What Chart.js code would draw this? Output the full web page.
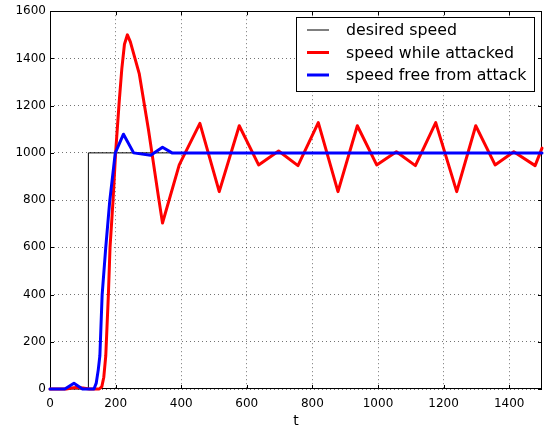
<!DOCTYPE html>
<html>
<head>
<meta charset="utf-8">
<script src="https://cdn.jsdelivr.net/npm/chart.js@4/dist/chart.umd.min.js"></script>
<style>
html,body{margin:0;padding:0;background:#fff;}
#wrap{width:545px;height:430px;}
</style>
</head>
<body>
<div id="wrap"><canvas id="c" width="545" height="430"></canvas></div>
<script>
// Data
const desiredT = [0, 117, 117, 1500];
const desiredV = [0, 0, 1000, 1000];

const attackedT = [0, 50, 65, 80, 100, 120, 150, 158, 164, 170, 178, 183, 192, 200, 211, 219, 227, 236, 245, 272, 300, 330, 343, 394, 457, 516, 577, 636, 697, 756, 818, 878, 937, 996, 1056, 1114, 1176, 1240, 1298, 1357, 1414, 1479, 1500];
const attackedV = [0, 0, 4, 6, 4, 0, 0, 10, 50, 140, 400, 600, 794, 1000, 1217, 1357, 1460, 1500, 1470, 1336, 1100, 820, 703, 949, 1125, 836, 1115, 949, 1008, 946, 1128, 836, 1115, 949, 1005, 946, 1128, 836, 1115, 949, 1005, 946, 1020];

const freeT = [0, 45, 73, 99, 134, 141, 147, 152, 159, 170, 182, 199, 224, 255, 307, 343, 372, 1500];
const freeV = [0, 0, 24, 0, 0, 25, 80, 140, 400, 600, 794, 1000, 1079, 1000, 990, 1024, 1000, 1000];

const seriesNames = ['desired speed', 'speed while attacked', 'speed free from attack'];
const xTicks = [0, 200, 400, 600, 800, 1000, 1200, 1400];
const yTicks = [0, 200, 400, 600, 800, 1000, 1200, 1400, 1600];

const toPts = (ts, vs) => ts.map((t, i) => ({x: t, y: vs[i]}));
const FONT = "'DejaVu Sans', sans-serif";

const framePlugin = {
  id: 'frame',
  beforeDatasetsDraw(chart) {
    const {ctx, chartArea: a, scales} = chart;
    ctx.save();
    ctx.strokeStyle = '#000';
    ctx.lineWidth = 1;
    ctx.strokeRect(Math.round(a.left) + 0.5, Math.round(a.top) + 0.5, Math.round(a.right - a.left) - 1, Math.round(a.bottom - a.top) - 1);
    const L = 4;
    ctx.beginPath();
    xTicks.forEach(v => {
      const px = Math.round(scales.x.getPixelForValue(v)) + 0.5;
      ctx.moveTo(px, a.bottom); ctx.lineTo(px, a.bottom - L);
      ctx.moveTo(px, a.top); ctx.lineTo(px, a.top + L);
    });
    yTicks.forEach(v => {
      const py = Math.round(scales.y.getPixelForValue(v)) + 0.5;
      ctx.moveTo(a.left, py); ctx.lineTo(a.left + L, py);
      ctx.moveTo(a.right, py); ctx.lineTo(a.right - L, py);
    });
    ctx.stroke();
    ctx.restore();
  },
  afterDraw(chart) {
    const {ctx} = chart;
    ctx.save();
    const bx = 296, by = 17, bw = 238, bh = 74;
    ctx.fillStyle = '#fff';
    ctx.fillRect(bx, by, bw, bh);
    ctx.strokeStyle = '#000';
    ctx.lineWidth = 1;
    ctx.strokeRect(bx + 0.5, by + 0.5, bw, bh);
    const rows = [30, 52.5, 75];
    const colors = ['#7f7f7f', '#ff0000', '#0000ff'];
    seriesNames.forEach((name, i) => {
      ctx.beginPath();
      ctx.strokeStyle = colors[i];
      ctx.lineWidth = i === 0 ? 2 : 3;
      ctx.moveTo(307, rows[i]); ctx.lineTo(329, rows[i]);
      ctx.stroke();
      ctx.fillStyle = '#000';
      ctx.font = '15.8px ' + FONT;
      ctx.textBaseline = 'middle';
      ctx.textAlign = 'left';
      ctx.fillText(name, 346, rows[i] + 1);
    });
    ctx.restore();
  }
};

new Chart(document.getElementById('c'), {
  type: 'line',
  data: {
    datasets: [
      {label: seriesNames[0], data: toPts(desiredT, desiredV), borderColor: '#000', borderWidth: 1, pointRadius: 0, tension: 0, fill: false, order: 3, clip: 4},
      {label: seriesNames[1], data: toPts(attackedT, attackedV), borderColor: '#ff0000', borderWidth: 3, pointRadius: 0, tension: 0, fill: false, borderJoinStyle: 'round', borderCapStyle: 'round', order: 2, clip: 4},
      {label: seriesNames[2], data: toPts(freeT, freeV), borderColor: '#0000ff', borderWidth: 3, pointRadius: 0, tension: 0, fill: false, borderJoinStyle: 'round', borderCapStyle: 'round', order: 1, clip: 4}
    ]
  },
  options: {
    responsive: false,
    animation: false,
    layout: {padding: {top: 9, right: 3, left: 0, bottom: 0}},
    plugins: {legend: {display: false}, tooltip: {enabled: false}},
    scales: {
      x: {
        type: 'linear', min: 0, max: 1500,
        afterBuildTicks: s => { s.ticks = xTicks.map(v => ({value: v})); },
        afterFit: s => { s.height = 41; },
        ticks: {color: '#000', font: {family: FONT, size: 12}, padding: 8, maxRotation: 0, callback: v => String(v)},
        grid: {color: 'rgba(0,0,0,0.55)', lineWidth: 1, drawTicks: false},
        border: {display: false, dash: [1, 3]},
        title: {display: true, text: 't', color: '#000', font: {family: FONT, size: 14}, padding: {top: 0, bottom: 0}}
      },
      y: {
        type: 'linear', min: 0, max: 1600,
        afterBuildTicks: s => { s.ticks = yTicks.map(v => ({value: v})); },
        afterFit: s => { s.width = 50; },
        ticks: {color: '#000', font: {family: FONT, size: 12}, padding: 4, callback: v => String(v)},
        grid: {color: 'rgba(0,0,0,0.55)', lineWidth: 1, drawTicks: false},
        border: {display: false, dash: [1, 3]}
      }
    }
  },
  plugins: [framePlugin]
});
</script>
</body>
</html>
